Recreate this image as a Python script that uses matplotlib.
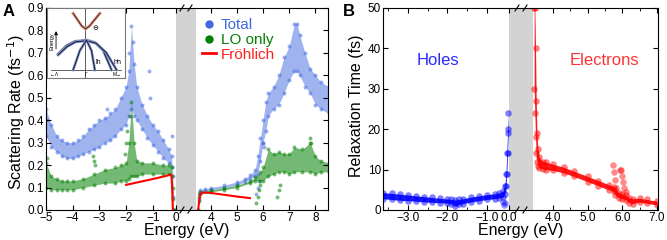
#!/usr/bin/env python3
"""Scattering rate (A) and relaxation time (B) of holes and electrons."""

import matplotlib
matplotlib.use("Agg")
import matplotlib.pyplot as plt
from matplotlib.lines import Line2D
from matplotlib.ticker import FormatStrFormatter

plt.rcParams["font.family"] = ["Liberation Sans", "DejaVu Sans"]

W, H = 667, 240

# ─────────────────────────────────────────────────────────────────────
# Panel A data (scattering rate, fs^-1), envelopes
# ─────────────────────────────────────────────────────────────────────

TOT_H_E = [-5.0, -4.8, -4.6, -4.4, -4.2, -4.0, -3.8, -3.6, -3.4, -3.2, -3.0,
           -2.8, -2.6, -2.4, -2.2, -2.0, -1.9, -1.8, -1.7, -1.6, -1.4, -1.2,
           -1.0, -0.8, -0.6, -0.4, -0.3, -0.25, -0.22]
TOT_H_HI = [0.45, 0.38, 0.33, 0.31, 0.30, 0.30, 0.31, 0.33, 0.36, 0.38, 0.40,
            0.41, 0.43, 0.45, 0.50, 0.55, 0.62, 0.82, 0.65, 0.55, 0.47, 0.42,
            0.38, 0.35, 0.31, 0.27, 0.24, 0.15, 0.0]
TOT_H_LO = [0.33, 0.28, 0.26, 0.24, 0.23, 0.23, 0.24, 0.25, 0.26, 0.27, 0.28,
            0.30, 0.31, 0.33, 0.36, 0.38, 0.42, 0.45, 0.42, 0.40, 0.36, 0.32,
            0.29, 0.26, 0.23, 0.21, 0.19, 0.06, 0.0]
TOT_H_OUT_E = [-1.9, -1.75, -1.15, -1.1, -0.3, -4.95, -2.7]
TOT_H_OUT_R = [0.70, 0.75, 0.62, 0.50, 0.33, 0.40, 0.45]

LO_H_E = [-5.0, -4.8, -4.6, -4.4, -4.2, -4.0, -3.6, -3.2, -2.8, -2.4, -2.2,
          -2.0, -1.9, -1.8, -1.7, -1.6, -1.4, -1.0, -0.6, -0.4, -0.3, -0.25,
          -0.22]
LO_H_HI = [0.21, 0.15, 0.14, 0.13, 0.13, 0.13, 0.14, 0.16, 0.18, 0.19, 0.20,
           0.21, 0.30, 0.48, 0.30, 0.22, 0.21, 0.21, 0.20, 0.20, 0.19, 0.10, 0.0]
LO_H_LO = [0.10, 0.09, 0.09, 0.09, 0.09, 0.09, 0.10, 0.11, 0.12, 0.12, 0.13,
           0.13, 0.14, 0.15, 0.15, 0.15, 0.16, 0.16, 0.16, 0.16, 0.15, 0.05, 0.0]
LO_H_OUT_E = [-3.25, -3.2, -3.15, -2.05, -2.0, -1.95, -1.85, -4.95]
LO_H_OUT_R = [0.24, 0.22, 0.20, 0.25, 0.30, 0.35, 0.42, 0.23]

FR_H_E = [-2.0, -1.5, -1.0, -0.5, -0.35, -0.3, -0.27, -0.25]
FR_H_R = [0.112, 0.125, 0.138, 0.152, 0.158, 0.155, 0.08, 0.0]

TOT_E_E = [3.5, 3.55, 3.6, 3.8, 4.0, 4.5, 5.0, 5.3, 5.5, 5.7, 5.8, 5.9, 6.0,
           6.1, 6.2, 6.4, 6.6, 6.8, 7.0, 7.2, 7.3, 7.4, 7.6, 7.8, 8.0, 8.2,
           8.5]
TOT_E_HI = [0.0, 0.07, 0.09, 0.095, 0.10, 0.11, 0.125, 0.14, 0.155, 0.18,
            0.24, 0.32, 0.40, 0.48, 0.52, 0.55, 0.60, 0.68, 0.73, 0.83, 0.83,
            0.78, 0.70, 0.63, 0.60, 0.57, 0.55]
TOT_E_LO = [0.0, 0.05, 0.08, 0.085, 0.09, 0.10, 0.11, 0.125, 0.14, 0.15,
            0.16, 0.22, 0.30, 0.35, 0.42, 0.45, 0.47, 0.52, 0.58, 0.62, 0.62,
            0.60, 0.55, 0.52, 0.47, 0.45, 0.43]
TOT_E_OUT_E = [5.75, 5.8, 5.85, 6.0, 6.05]
TOT_E_OUT_R = [0.07, 0.10, 0.13, 0.30, 0.28]

LO_E_E = [3.5, 3.55, 3.6, 4.0, 4.5, 5.0, 5.5, 5.7, 5.9, 6.0, 6.2, 6.4, 6.6,
          6.8, 7.0, 7.2, 7.5, 7.8, 8.0, 8.2, 8.5]
LO_E_HI = [0.0, 0.06, 0.08, 0.09, 0.10, 0.11, 0.13, 0.145, 0.17, 0.19, 0.27,
           0.25, 0.26, 0.25, 0.25, 0.28, 0.27, 0.30, 0.24, 0.22, 0.21]
LO_E_LO = [0.0, 0.04, 0.07, 0.08, 0.09, 0.10, 0.12, 0.13, 0.13, 0.13, 0.15,
           0.16, 0.17, 0.17, 0.16, 0.17, 0.17, 0.17, 0.16, 0.17, 0.17]
LO_E_OUT_E = [5.75, 5.8, 5.85, 5.9, 6.55, 6.6, 6.65, 7.8, 7.85]
LO_E_OUT_R = [0.03, 0.06, 0.09, 0.11, 0.06, 0.09, 0.11, 0.32, 0.30]

FR_E_E = [3.52, 3.6, 3.7, 4.0, 4.5, 5.0, 5.5]
FR_E_R = [0.0, 0.07, 0.078, 0.076, 0.068, 0.06, 0.053]

# inset band sketch (k, energy), arbitrary units
CB_K = [-0.37, -0.22, -0.12, 0.0, 0.13, 0.25, 0.43]
CB_E = [1.70, 1.48, 1.33, 1.23, 1.33, 1.48, 1.70]
HH_K = [-0.82, -0.57, -0.32, 0.03, 0.28, 0.53, 0.78]
HH_E = [0.48, 0.73, 0.86, 0.90, 0.83, 0.58, 0.0]
HH2_K = [-0.82, -0.55, -0.30, 0.03, 0.32, 0.62, 0.93]
HH2_E = [0.45, 0.70, 0.84, 0.88, 0.80, 0.52, 0.0]
LH_K = [-0.37, -0.17, 0.03, 0.18, 0.28]
LH_E = [0.0, 0.58, 0.90, 0.58, 0.0]

# ─────────────────────────────────────────────────────────────────────
# Panel B data (relaxation time, fs)
# ─────────────────────────────────────────────────────────────────────

HOLE_E = [-3.63, -3.4, -3.2, -3.0, -2.8, -2.6, -2.4, -2.2, -2.0, -1.9, -1.8,
          -1.7, -1.6, -1.4, -1.2, -1.0, -0.8, -0.7, -0.6, -0.55, -0.52, -0.5,
          -0.48, -0.46]
HOLE_HI = [4.3, 4.1, 3.9, 3.7, 3.5, 3.3, 3.1, 2.9, 2.7, 2.6, 2.5, 2.6, 2.8,
           3.2, 3.5, 3.8, 4.0, 4.2, 4.6, 6.0, 9.0, 14.0, 19.0, 24.0]
HOLE_LO = [2.8, 2.6, 2.4, 2.3, 2.2, 2.0, 1.9, 1.8, 1.7, 1.5, 0.9, 1.4, 1.6,
           2.0, 2.3, 2.6, 2.8, 3.0, 3.1, 4.0, 6.0, 9.0, 14.0, 20.0]
HOLE_OUT_E = [-0.6, -0.58, -0.55]
HOLE_OUT_T = [2.0, 1.2, 1.7]

ELEC_E = [3.45, 3.47, 3.49, 3.51, 3.53, 3.56, 3.6, 3.7, 3.8, 4.0, 4.3, 4.6,
          5.0, 5.3, 5.6, 5.75, 5.8, 5.9, 6.0, 6.1, 6.2, 6.3, 6.5, 6.7, 7.0]
ELEC_HI = [50, 50, 40, 27, 19, 15, 13, 12, 11.8, 11.3, 10.6, 9.6, 8.3, 7.3,
           6.3, 5.8, 5.0, 4.3, 4.0, 3.6, 3.0, 2.8, 2.9, 2.6, 2.2]
ELEC_LO = [30, 24, 18, 14, 12, 11, 10.5, 10.2, 10, 9.8, 9.2, 8.3, 7.0, 6.0,
           5.0, 4.6, 3.6, 3.0, 2.8, 2.5, 1.8, 1.6, 1.9, 1.7, 1.2]
ELEC_OUT_E = [5.72, 5.75, 5.78, 5.82, 5.92, 5.95, 5.98, 6.02, 6.06, 6.1]
ELEC_OUT_T = [11.2, 9.5, 7.5, 5.5, 10.0, 9.8, 8.5, 7.0, 5.5, 4.5]

GRAY = "#d3d3d3"


def box(x0, x1, y0=8, y1=210):
    """Axes rectangle from pixel edges."""
    return [x0 / W, 1 - y1 / H, (x1 - x0) / W, (y1 - y0) / H]


def break_marks(fig, xm):
    """Draw the // marks at top and bottom of the axis break."""
    for y in (8, 210):
        for dx in (-4, 4):
            x = xm + dx
            fig.add_artist(Line2D([(x - 2) / W, (x + 2) / W],
                                  [1 - (y + 3) / H, 1 - (y - 3) / H],
                                  color="k", lw=0.8))


def broken_pair(fig, x0, xm, x1, xlim_l, xlim_r, gray_l, gray_r):
    axl = fig.add_axes(box(x0, xm))
    axr = fig.add_axes(box(xm, x1), sharey=axl)
    axl.set_xlim(*xlim_l)
    axr.set_xlim(*xlim_r)
    axl.axvspan(gray_l, xlim_l[1], color=GRAY, lw=0, zorder=0)
    axr.axvspan(xlim_r[0], gray_r, color=GRAY, lw=0, zorder=0)
    axl.spines["right"].set_visible(False)
    axr.spines["left"].set_visible(False)
    for ax in (axl, axr):
        for s in ax.spines.values():
            s.set_linewidth(0.8)
    axl.tick_params(which="both", direction="in", top=True, right=False,
                    labelsize=8.5, pad=1.5)
    axr.tick_params(which="both", direction="in", top=True, right=True,
                    left=False, labelleft=False, labelsize=8.5, pad=1.5)
    break_marks(fig, xm)
    return axl, axr


def cloud(ax, e, hi, lo, color, s, alpha=0.55, fill_alpha=0.4):
    ax.fill_between(e, lo, hi, color=color, alpha=fill_alpha, lw=0)
    ax.scatter(e, hi, s=s, color=color, alpha=alpha, lw=0)
    ax.scatter(e, lo, s=s, color=color, alpha=alpha, lw=0)


def panel_a(fig):
    axl, axr = broken_pair(fig, 46, 186, 328, (-5.0, 0.243), (3.06, 8.48),
                           -0.14, 3.45)
    axl.set_ylim(0, 0.9)
    axl.set_yticks([i / 10 for i in range(10)])
    axl.yaxis.set_major_formatter(FormatStrFormatter("%.1f"))
    axl.set_xticks([-5, -4, -3, -2, -1, -0.14])
    axl.set_xticklabels(["\u22125", "\u22124", "\u22123", "\u22122", "\u22121", "0"])
    axr.set_xticks([4, 5, 6, 7, 8])

    blue, green, red = "royalblue", "green", "red"
    cloud(axl, TOT_H_E, TOT_H_HI, TOT_H_LO, blue, 8, fill_alpha=0.5)
    axl.scatter(TOT_H_OUT_E, TOT_H_OUT_R, s=8, color=blue, alpha=0.55, lw=0)
    cloud(axl, LO_H_E, LO_H_HI, LO_H_LO, green, 8, fill_alpha=0.55)
    axl.scatter(LO_H_OUT_E, LO_H_OUT_R, s=8, color=green, alpha=0.55, lw=0)
    axl.plot(FR_H_E, FR_H_R, color=red, lw=1.5)

    cloud(axr, TOT_E_E, TOT_E_HI, TOT_E_LO, blue, 8, fill_alpha=0.5)
    axr.scatter(TOT_E_OUT_E, TOT_E_OUT_R, s=8, color=blue, alpha=0.55, lw=0)
    cloud(axr, LO_E_E, LO_E_HI, LO_E_LO, green, 8, fill_alpha=0.55)
    axr.scatter(LO_E_OUT_E, LO_E_OUT_R, s=8, color=green, alpha=0.55, lw=0)
    axr.plot(FR_E_E, FR_E_R, color=red, lw=1.5)

    handles = [Line2D([], [], marker="o", ls="", color=blue, ms=5),
               Line2D([], [], marker="o", ls="", color=green, ms=5),
               Line2D([], [], color=red, lw=2)]
    axr.legend(handles, ["Total", "LO only", "Fröhlich"], loc="upper left",
               bbox_to_anchor=(0.05, 0.995), frameon=False, fontsize=11,
               handlelength=0.9, handletextpad=0.3, labelspacing=0.05,
               borderaxespad=0.2, labelcolor=[blue, green, "#ff2020"])

    fig.text(16 / W, 1 - 112 / H, "Scattering Rate (fs$^{-1}$)", rotation=90,
             ha="center", va="center", fontsize=11.5)
    fig.text(187 / W, 1 - 231 / H, "Energy (eV)", ha="center", va="center",
             fontsize=11.5)
    fig.text(9 / W, 1 - 12 / H, "A", ha="center", va="center", fontsize=12,
             fontweight="bold")

    # inset sketch of the bands
    ins = fig.add_axes(box(47, 125, 8, 78))
    ins.set_xlim(-1.15, 1.18)
    ins.set_ylim(-0.24, 1.86)
    ins.set_xticks([])
    ins.set_yticks([])
    for s in ins.spines.values():
        s.set_color("#777777")
        s.set_linewidth(0.8)
    ins.axhline(0, color="#444444", lw=0.6, xmin=0.05, xmax=0.95)
    ins.axvline(0, color="#444444", lw=0.6)
    ins.plot(CB_K, CB_E, color="#f4a582", lw=2.2)
    ins.plot(CB_K, CB_E, color="#3a2a3a", lw=0.8)
    for k, e in [(HH_K, HH_E), (HH2_K, HH2_E), (LH_K, LH_E)]:
        ins.plot(k, e, color="#9aa6c8", lw=2.0)
        ins.plot(k, e, color="#1c2a5a", lw=0.9)
    ins.annotate("", xy=(-0.88, 1.25), xytext=(-0.88, 0.55),
                 arrowprops=dict(arrowstyle="-|>", color="k", lw=0.6,
                                 mutation_scale=5))
    ins.text(-1.0, 0.85, "Energy", rotation=90, fontsize=4, ha="center",
             va="center")
    ins.text(0.3, 1.25, "\u2296", fontsize=5, ha="center", va="center")
    ins.text(0.38, 0.22, "lh", fontsize=5, ha="center", va="center")
    ins.text(0.95, 0.22, "hh", fontsize=5, ha="center", va="center")
    ins.text(-0.95, -0.12, "\u2190\u039b", fontsize=3.5, ha="center", va="center")
    ins.text(0.0, -0.12, "\u0393", fontsize=3.5, ha="center", va="center")
    ins.text(0.95, -0.12, "M\u2192", fontsize=3.5, ha="center", va="center")


def panel_b(fig):
    axl, axr = broken_pair(fig, 383, 521, 658, (-3.63, -0.14), (3.07, 7.03),
                           -0.44, 3.42)
    axl.set_ylim(0, 50)
    axl.set_yticks([0, 10, 20, 30, 40, 50])
    axl.set_xticks([-3, -2, -1, -0.44])
    axl.set_xticklabels(["\u22123.0", "\u22122.0", "\u22121.0", "0.0"])
    axl.set_xticks([-3.5, -2.5, -1.5], minor=True)
    axr.set_xticks([4, 5, 6, 7])
    axr.set_xticklabels(["4.0", "5.0", "6.0", "7.0"])
    axr.set_xticks([4.5, 5.5, 6.5], minor=True)

    cloud(axl, HOLE_E, HOLE_HI, HOLE_LO, "blue", 22, alpha=0.5,
          fill_alpha=0.9)
    axl.scatter(HOLE_OUT_E, HOLE_OUT_T, s=22, color="blue", alpha=0.4, lw=0)
    cloud(axr, ELEC_E, ELEC_HI, ELEC_LO, "red", 22, alpha=0.5,
          fill_alpha=0.9)
    axr.scatter(ELEC_OUT_E, ELEC_OUT_T, s=22, color="red", alpha=0.45, lw=0)

    axl.text(-2.24, 37, "Holes", color="#2b2bff", fontsize=12, ha="center",
             va="center")
    axr.text(5.47, 37, "Electrons", color="#ff3333", fontsize=12, ha="center",
             va="center")

    fig.text(356 / W, 1 - 106 / H, "Relaxation Time (fs)", rotation=90,
             ha="center", va="center", fontsize=11.5)
    fig.text(521 / W, 1 - 231 / H, "Energy (eV)", ha="center", va="center",
             fontsize=11.5)
    fig.text(349 / W, 1 - 11 / H, "B", ha="center", va="center", fontsize=12,
             fontweight="bold")


def main():
    fig = plt.figure(figsize=(W / 100, H / 100), dpi=100)
    panel_a(fig)
    panel_b(fig)
    fig.savefig("out.png", dpi=100)


if __name__ == "__main__":
    main()
